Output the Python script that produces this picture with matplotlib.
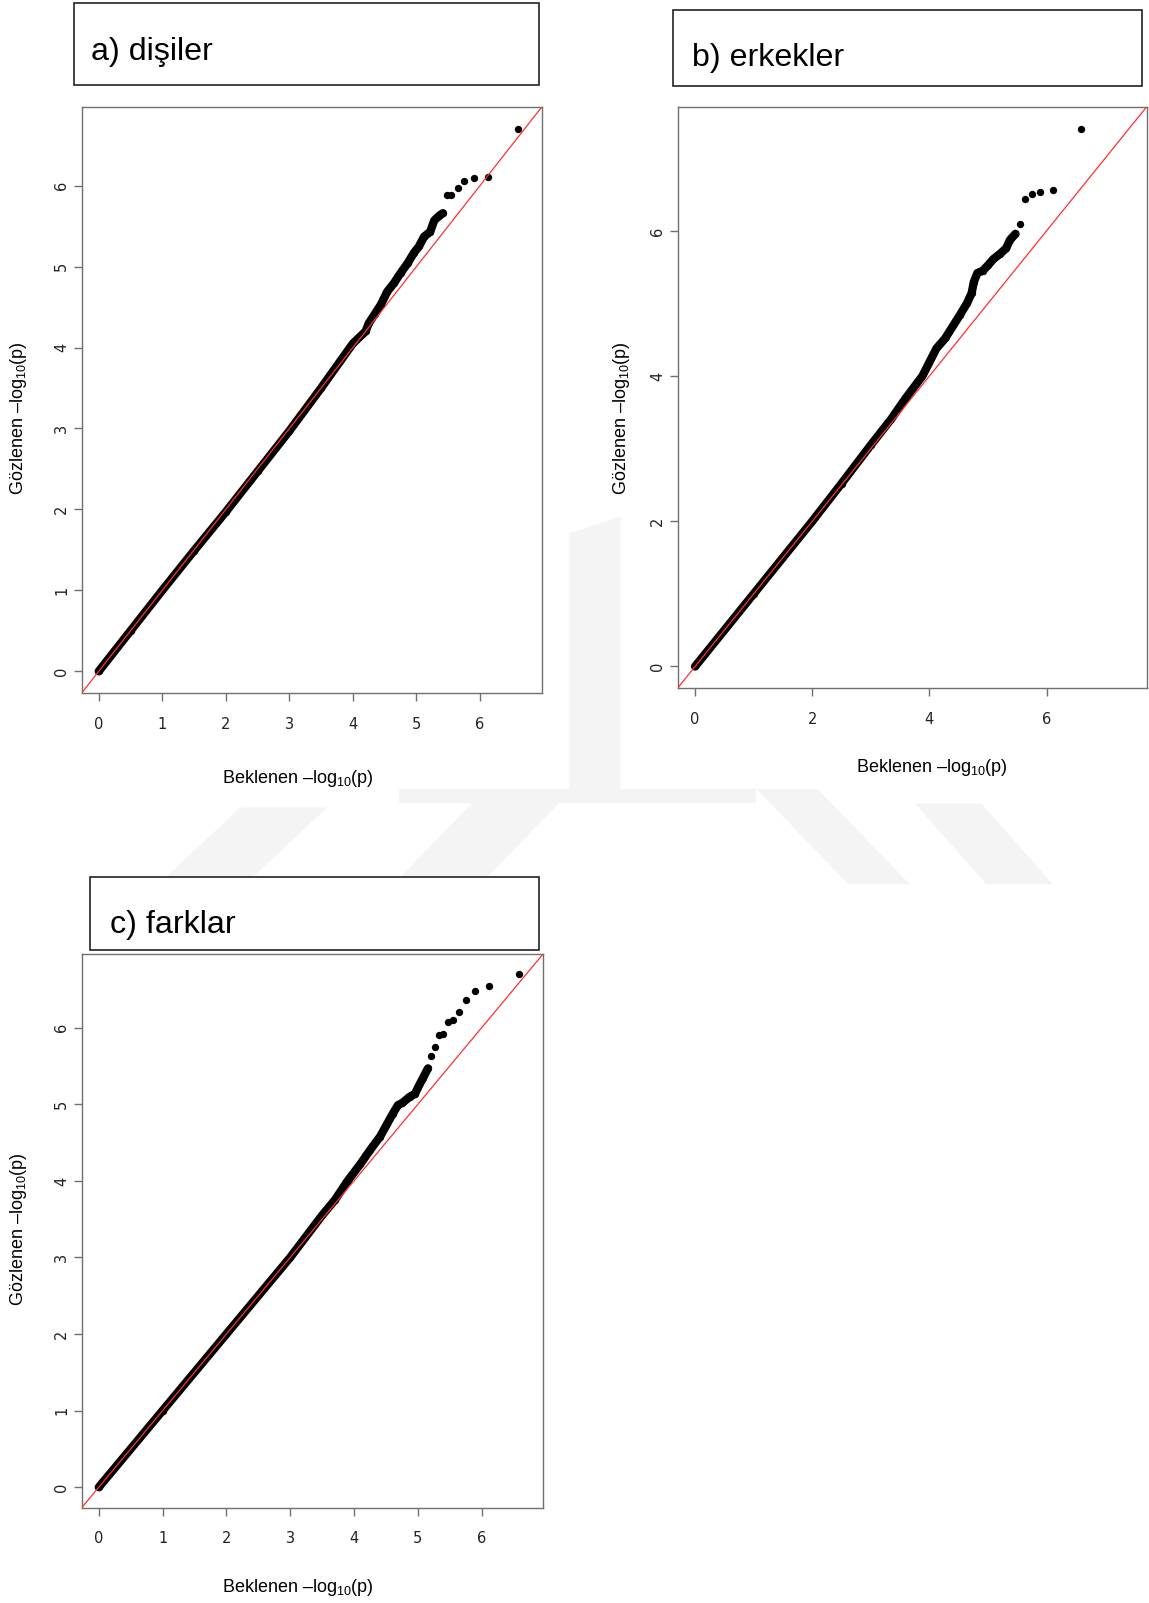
import matplotlib
matplotlib.use("Agg")
import matplotlib.pyplot as plt
from matplotlib.patches import Rectangle, Polygon

plt.rcParams['font.family'] = ['Liberation Sans', 'DejaVu Sans']
plt.rcParams['mathtext.fontset'] = 'custom'
plt.rcParams['mathtext.rm'] = 'Liberation Sans'
plt.rcParams['mathtext.it'] = 'Liberation Sans:italic'

W, H = 1149, 1603

# a) dişiler : dense part of the QQ curve and the separate top points
a_dense_x = [0.0, 0.5, 1.0, 1.5, 2.0, 2.5, 3.0, 3.5, 3.8, 4.0, 4.2, 4.25, 4.35, 4.44,
             4.54, 4.65, 4.75, 4.86, 4.96, 5.04, 5.12, 5.216, 5.28, 5.36, 5.416]
a_dense_y = [0.0, 0.5, 1.0, 1.49, 1.97, 2.47, 2.97, 3.5, 3.83, 4.05, 4.2, 4.3, 4.42, 4.53,
             4.69, 4.80, 4.92, 5.04, 5.17, 5.25, 5.37, 5.43, 5.57, 5.63, 5.66]
a_tail_x = [5.48, 5.55, 5.65, 5.75, 5.90, 6.12, 6.596]
a_tail_y = [5.88, 5.89, 5.965, 6.06, 6.10, 6.105, 6.70]

# b) erkekler
b_dense_x = [0.0, 1.0, 2.0, 2.5, 3.0, 3.35, 3.6, 3.88, 4.12, 4.27, 4.41, 4.52, 4.64,
             4.72, 4.76, 4.82, 4.91, 5.005, 5.09, 5.20, 5.31, 5.375, 5.47]
b_dense_y = [0.0, 1.0, 2.0, 2.52, 3.05, 3.41, 3.7, 4.0, 4.38, 4.52, 4.70, 4.84, 5.00,
             5.14, 5.30, 5.42, 5.45, 5.53, 5.61, 5.68, 5.76, 5.875, 5.96]
b_tail_x = [5.55, 5.64, 5.75, 5.89, 6.11, 6.59]
b_tail_y = [6.10, 6.44, 6.51, 6.54, 6.57, 7.41]

# c) farklar
c_dense_x = [0.0, 1.0, 2.0, 3.0, 3.5, 3.7, 3.9, 4.1, 4.25, 4.41, 4.51, 4.61, 4.69,
             4.76, 4.875, 4.955, 5.01, 5.085, 5.16]
c_dense_y = [0.0, 1.0, 2.0, 3.0, 3.55, 3.75, 4.0, 4.22, 4.4, 4.58, 4.73, 4.88, 4.99,
             5.02, 5.10, 5.135, 5.23, 5.35, 5.47]
c_tail_x = [5.215, 5.27, 5.335, 5.40, 5.48, 5.545, 5.64, 5.75, 5.895, 6.115, 6.59]
c_tail_y = [5.63, 5.75, 5.90, 5.92, 6.07, 6.10, 6.20, 6.36, 6.48, 6.55, 6.70]

titles = ['a) dişiler', 'b) erkekler', 'c) farklar']
xlab = 'Beklenen –log$_{10}$(p)'
ylab = 'Gözlenen –log$_{10}$(p)'


def fx(x):
    return x / W


def fy(y):
    return 1 - y / H


fig = plt.figure(figsize=(W / 100, H / 100), dpi=100)

# faint background watermark
wm = [
    [(155, 865), (240, 865), (320, 790), (235, 790)],
    [(385, 865), (470, 865), (560, 772), (475, 772)],
    [(557, 522), (607, 505), (607, 772), (557, 772)],
    [(390, 772), (740, 772), (740, 786), (390, 786)],
    [(740, 772), (800, 772), (890, 865), (830, 865)],
    [(895, 786), (960, 786), (1030, 865), (965, 865)],
]
for poly in wm:
    pts = [(fx(x * 1.0222), fy(y * 1.0222)) for x, y in poly]
    fig.patches.append(Polygon(pts, closed=True, transform=fig.transFigure,
                               facecolor='#f4f4f4', edgecolor='none', zorder=0))

panels = [
    dict(box=(81.7, 107.3, 541.5, 693.0), ticks=[0, 1, 2, 3, 4, 5, 6],
         dx=a_dense_x, dy=a_dense_y, tx=a_tail_x, ty=a_tail_y,
         tbox=(74, 3, 539, 85), tpos=(91, 60),
         xl=(298, 783), yl=(19, 418)),
    dict(box=(677.7, 107.0, 1146.5, 688.0), ticks=[0, 2, 4, 6],
         dx=b_dense_x, dy=b_dense_y, tx=b_tail_x, ty=b_tail_y,
         tbox=(673, 10, 1142, 86), tpos=(692, 66),
         xl=(932, 772), yl=(621, 418)),
    dict(box=(81.7, 953.7, 543.3, 1507.7), ticks=[0, 1, 2, 3, 4, 5, 6],
         dx=c_dense_x, dy=c_dense_y, tx=c_tail_x, ty=c_tail_y,
         tbox=(90, 877, 539, 950), tpos=(110, 933),
         xl=(298, 1592), yl=(19, 1229)),
]

tick_font = ['Liberation Sans Narrow', 'DejaVu Sans Condensed', 'DejaVu Sans']

for p, title in zip(panels, titles):
    l, t, r, b = p['box']
    ax = fig.add_axes([fx(l), fy(b), (r - l) / W, (b - t) / H])
    ax.set_facecolor('white')
    m = max(max(p['dx'] + p['tx']), max(p['dy'] + p['ty']))
    lim = (-0.04 * m, 1.04 * m)
    ax.set_xlim(lim)
    ax.set_ylim(lim)

    ax.plot(p['dx'], p['dy'], color='black', lw=6, solid_capstyle='round',
            solid_joinstyle='round', zorder=2)
    ax.scatter(p['dx'] + p['tx'], p['dy'] + p['ty'], s=28, c='black',
               linewidths=0, zorder=2)
    ax.axline((0, 0), (1, 1), color='#ff3030', lw=0.9, zorder=3)

    ax.set_xticks(p['ticks'])
    ax.set_yticks(p['ticks'])
    for s in ax.spines.values():
        s.set_color('#707070')
        s.set_linewidth(1.0)
    ax.tick_params(length=6, width=1, color='#707070', labelsize=10.5,
                   labelcolor='#222222', pad=11)
    ax.tick_params(axis='y', labelrotation=90, pad=3)
    for lab in ax.get_xticklabels() + ax.get_yticklabels():
        lab.set_family(tick_font)
    for lab in ax.get_yticklabels():
        lab.set_verticalalignment('center')

    # title box
    x0, y0, x1, y1 = p['tbox']
    fig.patches.append(Rectangle((fx(x0), fy(y1)), (x1 - x0) / W, (y1 - y0) / H,
                                 transform=fig.transFigure, facecolor='white',
                                 edgecolor='#222222', lw=1.2, zorder=1))
    fig.text(fx(p['tpos'][0]), fy(p['tpos'][1]), title, fontsize=23.2,
             ha='left', va='baseline', color='black')

    fig.text(fx(p['xl'][0]), fy(p['xl'][1]), xlab, fontsize=13,
             ha='center', va='baseline', color='black')
    fig.text(fx(p['yl'][0]), fy(p['yl'][1]), ylab, fontsize=13, rotation=90,
             ha='center', va='center', color='black')

fig.savefig('out.png', dpi=100, facecolor='white')
